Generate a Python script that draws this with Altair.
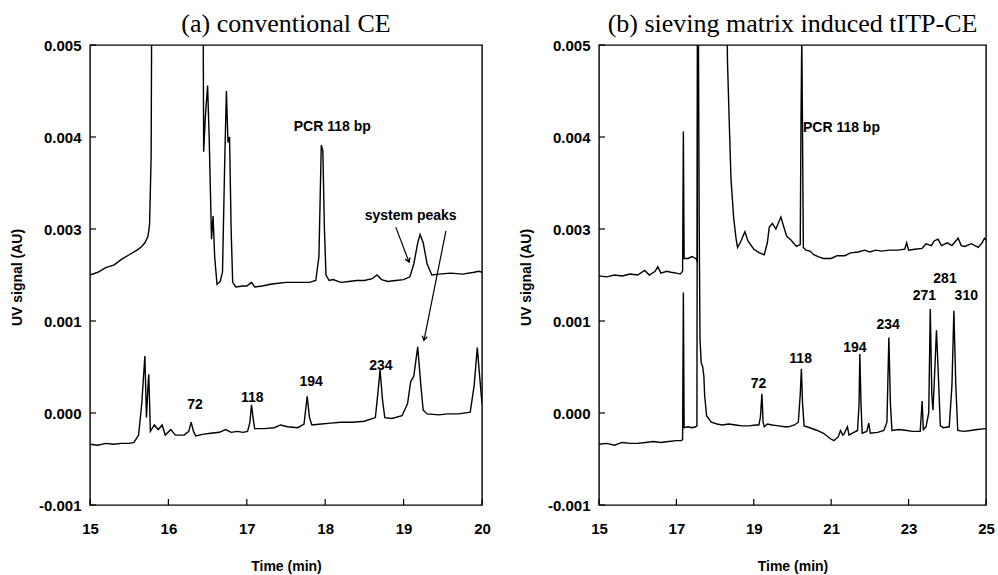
import json
import altair as alt
import pandas as pd

# ---------------- axis definitions ----------------
Y_TICKS = [0.0, 0.001, 0.002, 0.003, 0.004, 0.005]          # plot positions
Y_TICK_LABELS = ["-0.001", "0.000", "0.001", "0.003", "0.004", "0.005"]
LOWER_OFFSET = 0.001   # lower traces are drawn one axis step higher
A_X_TICKS = [15, 16, 17, 18, 19, 20]
B_X_TICKS = [15, 17, 19, 21, 23, 25]

# ---------------- (a) conventional CE ----------------
A_UP_T = [15.00, 15.10, 15.20, 15.31, 15.40, 15.50, 15.60, 15.66, 15.70, 15.74, 15.76, 15.78, 15.79,
          16.44, 16.45, 16.47, 16.50, 16.52, 16.55, 16.57, 16.59, 16.62, 16.66, 16.69, 16.72, 16.74,
          16.76, 16.78, 16.80, 16.82, 16.86, 16.95, 17.00, 17.06, 17.10, 17.20, 17.30, 17.40, 17.50,
          17.60, 17.70, 17.80, 17.88, 17.92, 17.95, 17.97, 17.99, 18.01, 18.05, 18.10, 18.20, 18.30,
          18.40, 18.50, 18.60, 18.66, 18.72, 18.80, 18.90, 19.00, 19.08, 19.13, 19.18, 19.21, 19.25,
          19.30, 19.36, 19.45, 19.60, 19.75, 19.90, 19.96, 20.00]
A_UP_V = [0.00250, 0.00253, 0.00258, 0.00261, 0.00267, 0.00272, 0.00277, 0.00281, 0.00285, 0.00292,
          0.00305, 0.00380, 0.00600, 0.00600, 0.00384, 0.00420, 0.00456, 0.00400, 0.00289, 0.00314,
          0.00270, 0.00240, 0.00243, 0.00253, 0.00380, 0.00450, 0.00394, 0.00400, 0.00300, 0.00242,
          0.00237, 0.00238, 0.00238, 0.00242, 0.00237, 0.00238, 0.00240, 0.00241, 0.00242, 0.00242,
          0.00242, 0.00242, 0.00244, 0.00270, 0.00391, 0.00385, 0.00300, 0.00250, 0.00244, 0.00245,
          0.00242, 0.00243, 0.00244, 0.00244, 0.00246, 0.00250, 0.00245, 0.00243, 0.00244, 0.00245,
          0.00248, 0.00262, 0.00285, 0.00294, 0.00285, 0.00262, 0.00250, 0.00251, 0.00252, 0.00251,
          0.00253, 0.00254, 0.00253]
A_LO_T = [15.00, 15.10, 15.20, 15.30, 15.40, 15.50, 15.56, 15.62, 15.66, 15.70, 15.72, 15.74, 15.75,
          15.77, 15.82, 15.87, 15.92, 15.96, 16.03, 16.09, 16.20, 16.26, 16.29, 16.32, 16.35, 16.45,
          16.54, 16.65, 16.73, 16.80, 16.88, 16.95, 17.01, 17.04, 17.06, 17.08, 17.10, 17.22, 17.35,
          17.43, 17.52, 17.65, 17.73, 17.77, 17.80, 17.83, 17.95, 18.07, 18.20, 18.35, 18.50, 18.64,
          18.67, 18.70, 18.73, 18.76, 18.85, 18.98, 19.05, 19.09, 19.13, 19.18, 19.22, 19.25, 19.30,
          19.45, 19.56, 19.70, 19.85, 19.90, 19.94, 19.97, 20.00]
A_LO_V = [-0.00034, -0.00035, -0.00033, -0.00034, -0.00033, -0.00033, -0.00032, -0.00024, 0.00010,
          0.00062, -0.00005, 0.00030, 0.00042, -0.00020, -0.00013, -0.00018, -0.00013, -0.00024,
          -0.00018, -0.00024, -0.00024, -0.00020, -0.00010, -0.00020, -0.00025, -0.00023, -0.00022,
          -0.00021, -0.00018, -0.00021, -0.00020, -0.00021, -0.00020, -0.00010, 0.00009, -0.00005,
          -0.00017, -0.00017, -0.00016, -0.00013, -0.00015, -0.00016, -0.00012, 0.00018, -0.00005,
          -0.00013, -0.00012, -0.00011, -0.00010, -0.00010, -0.00009, -0.00005, 0.00020, 0.00047,
          0.00015, -0.00005, -0.00006, -0.00003, 0.00010, 0.00034, 0.00040, 0.00072, 0.00030, 0.00003,
          -0.00001, -0.00002, -0.00001, -0.00001, 0.00001, 0.00030, 0.00071, 0.00040, 0.00010]
A_PEAK_NAMES = ["72", "118", "194", "234"]
A_PEAK_T = [16.34, 17.07, 17.82, 18.71]
A_PEAK_V = [0.00009, 0.00016, 0.00034, 0.00051]      # lower-trace units
A_NOTE_TEXT = ["PCR 118 bp", "system peaks"]
A_NOTE_T = [18.09, 19.09]
A_NOTE_V = [0.00411, 0.00314]
A_ARROW_T1 = [18.90, 19.54]
A_ARROW_V1 = [0.00302, 0.00298]
A_ARROW_T2 = [19.07, 19.26]
A_ARROW_V2 = [0.00264, 0.00179]
A_ARROW_ANGLE = [339, 11]

# ---------------- (b) sieving matrix induced tITP-CE ----------------
B_UP_T = [15.00, 15.20, 15.40, 15.60, 15.80, 16.00, 16.18, 16.30, 16.45, 16.52, 16.60, 16.75, 16.86,
          17.00, 17.10, 17.16, 17.18, 17.20, 17.30, 17.40, 17.50, 17.54, 17.55, 18.29, 18.32, 18.37,
          18.41, 18.48, 18.54, 18.58, 18.65, 18.77, 18.85, 19.00, 19.15, 19.27, 19.35, 19.40, 19.48,
          19.57, 19.70, 19.77, 19.85, 19.96, 20.10, 20.20, 20.22, 20.24, 20.26, 20.28, 20.35, 20.45,
          20.55, 20.66, 20.80, 21.00, 21.15, 21.35, 21.50, 21.70, 21.86, 22.00, 22.15, 22.30, 22.50,
          22.73, 22.90, 22.95, 23.00, 23.16, 23.35, 23.45, 23.59, 23.66, 23.76, 23.85, 24.00, 24.12,
          24.28, 24.36, 24.45, 24.62, 24.80, 24.90, 24.96, 25.00]
B_UP_V = [0.00249, 0.00248, 0.00250, 0.00249, 0.00251, 0.00250, 0.00255, 0.00250, 0.00254, 0.00259,
          0.00252, 0.00254, 0.00253, 0.00252, 0.00251, 0.00254, 0.00406, 0.00268, 0.00268, 0.00270,
          0.00268, 0.00265, 0.00600, 0.00600, 0.00482, 0.00410, 0.00355, 0.00312, 0.00290, 0.00280,
          0.00285, 0.00297, 0.00287, 0.00278, 0.00274, 0.00272, 0.00285, 0.00302, 0.00306, 0.00300,
          0.00313, 0.00303, 0.00292, 0.00288, 0.00281, 0.00283, 0.00420, 0.00510, 0.00400, 0.00280,
          0.00277, 0.00276, 0.00272, 0.00270, 0.00268, 0.00268, 0.00271, 0.00271, 0.00274, 0.00275,
          0.00277, 0.00275, 0.00277, 0.00276, 0.00277, 0.00277, 0.00278, 0.00285, 0.00277, 0.00278,
          0.00279, 0.00284, 0.00282, 0.00287, 0.00289, 0.00282, 0.00285, 0.00282, 0.00290, 0.00282,
          0.00281, 0.00284, 0.00280, 0.00285, 0.00290, 0.00288]
B_LO_T = [15.00, 15.20, 15.40, 15.60, 15.80, 16.00, 16.20, 16.40, 16.60, 16.80, 17.00, 17.12, 17.16,
          17.18, 17.20, 17.30, 17.40, 17.50, 17.53, 17.55, 17.59, 17.61, 17.64, 17.68, 17.71, 17.73,
          17.78, 17.90, 18.05, 18.18, 18.35, 18.53, 18.70, 18.87, 19.05, 19.13, 19.17, 19.21, 19.24,
          19.27, 19.35, 19.47, 19.64, 19.80, 19.90, 20.05, 20.15, 20.20, 20.23, 20.26, 20.30, 20.45,
          20.64, 20.80, 20.98, 21.07, 21.18, 21.24, 21.30, 21.33, 21.42, 21.46, 21.55, 21.68, 21.72,
          21.74, 21.77, 21.80, 21.92, 21.97, 22.01, 22.20, 22.36, 22.44, 22.49, 22.53, 22.57, 22.75,
          22.96, 23.10, 23.30, 23.35, 23.38, 23.45, 23.52, 23.56, 23.60, 23.63, 23.67, 23.72, 23.76,
          23.82, 23.90, 24.05, 24.12, 24.17, 24.22, 24.27, 24.43, 24.60, 24.77, 25.00]
B_LO_V = [-0.00034, -0.00033, -0.00035, -0.00032, -0.00033, -0.00033, -0.00032, -0.00031, -0.00032,
          -0.00031, -0.00030, -0.00030, -0.00029, 0.00131, -0.00016, -0.00015, -0.00016, -0.00015,
          -0.00014, 0.00600, 0.00200, 0.00080, 0.00055, 0.00050, 0.00040, 0.00019, -0.00003, -0.00010,
          -0.00012, -0.00013, -0.00012, -0.00013, -0.00014, -0.00014, -0.00013, -0.00013, -0.00005,
          0.00021, -0.00010, -0.00015, -0.00012, -0.00013, -0.00014, -0.00015, -0.00015, -0.00013,
          -0.00010, 0.00020, 0.00048, 0.00010, -0.00014, -0.00016, -0.00019, -0.00022, -0.00028,
          -0.00030, -0.00026, -0.00019, -0.00024, -0.00023, -0.00015, -0.00024, -0.00022, -0.00019,
          0.00010, 0.00064, 0.00010, -0.00022, -0.00020, -0.00011, -0.00022, -0.00021, -0.00019,
          -0.00010, 0.00082, 0.00010, -0.00019, -0.00018, -0.00019, -0.00020, -0.00020, 0.00013,
          -0.00018, -0.00015, 0.00000, 0.00113, 0.00020, 0.00003, 0.00040, 0.00090, 0.00050, -0.00014,
          -0.00016, -0.00015, 0.00030, 0.00111, 0.00030, -0.00019, -0.00020, -0.00019, -0.00018,
          -0.00017]
B_PEAK_NAMES = ["72", "118", "194", "234", "271", "281", "310"]
B_PEAK_T = [19.12, 20.21, 21.61, 22.47, 23.41, 23.94, 24.49]
B_PEAK_V = [0.00032, 0.00059, 0.00071, 0.00096, 0.00127, 0.00146, 0.00127]
B_NOTE_TEXT = ["PCR 118 bp"]
B_NOTE_T = [20.27]
B_NOTE_V = [0.00410]

H = 460
LABEL_EXPR = json.dumps(Y_TICK_LABELS) + "[round(datum.value*1000)]"
SANS = "Liberation Sans"
ARROW_SHAPE = "M -0.6 -1 L 0 0 L 0.6 -1"


def panel(title, xdom, xticks, width, up_t, up_v, lo_t, lo_v,
          peak_names, peak_t, peak_v, note_text, note_t, note_v, arrows=None):
    xs = alt.Scale(domain=xdom, nice=False, zero=False)
    ys = alt.Scale(domain=[Y_TICKS[0], Y_TICKS[-1]], nice=False, zero=False)
    xax = alt.Axis(values=xticks, format="d", title="Time (min)", ticks=False, domain=False,
                   grid=False, labelPadding=16, titlePadding=23, labelFlush=False)
    yax = alt.Axis(values=Y_TICKS, labelExpr=LABEL_EXPR, title="UV signal (AU)", ticks=False,
                   domain=False, grid=False, labelPadding=9, titleX=-73, titleY=232,
                   titleAlign="center", titleBaseline="middle", titleAngle=270, labelFlush=False)

    def X(f):
        return alt.X(f, scale=xs, axis=xax)

    def Y(f):
        return alt.Y(f, scale=ys, axis=yax)

    traces = pd.concat([
        pd.DataFrame({"t": up_t, "v": up_v, "trace": "upper"}),
        pd.DataFrame({"t": lo_t, "v": [v + LOWER_OFFSET for v in lo_v], "trace": "lower"}),
    ])
    lines = alt.Chart(traces).mark_line(color="black", strokeWidth=1.4, clip=True).encode(
        x=X("t:Q"), y=Y("v:Q"), detail="trace:N")

    peaks = pd.DataFrame({"t": peak_t, "v": [v + LOWER_OFFSET for v in peak_v], "s": peak_names})
    peak_text = alt.Chart(peaks).mark_text(
        font=SANS, fontSize=14, fontWeight="bold", color="black").encode(
        x=X("t:Q"), y=Y("v:Q"), text="s:N")

    notes = pd.DataFrame({"t": note_t, "v": note_v, "s": note_text})
    note_align = "left" if arrows is None else "center"
    note_layer = alt.Chart(notes).mark_text(
        font=SANS, fontSize=14, fontWeight="bold", color="black", align=note_align).encode(
        x=X("t:Q"), y=Y("v:Q"), text="s:N")

    ytk = alt.Chart(pd.DataFrame({"v": Y_TICKS})).mark_rule(color="black", strokeWidth=1.2).encode(
        y=Y("v:Q"), x=alt.value(0), x2=alt.value(6))
    xtk = alt.Chart(pd.DataFrame({"t": xticks})).mark_rule(color="black", strokeWidth=1.2).encode(
        x=X("t:Q"), y=alt.value(H), y2=alt.value(H - 6))

    layers = [lines, peak_text, note_layer, ytk, xtk]
    if arrows is not None:
        t1, v1, t2, v2, ang = arrows
        adf = pd.DataFrame({"t": t1, "v": v1, "t2": t2, "v2": v2, "ang": ang})
        shafts = alt.Chart(adf).mark_rule(color="black", strokeWidth=1.2).encode(
            x=X("t:Q"), y=Y("v:Q"), x2="t2:Q", y2="v2:Q")
        heads = alt.Chart(adf).mark_point(
            shape=ARROW_SHAPE, filled=False, color="black", strokeWidth=1.3, size=70, opacity=1).encode(
            x=X("t2:Q"), y=Y("v2:Q"), angle=alt.Angle("ang:Q", scale=None))
        layers += [shafts, heads]

    return alt.layer(*layers).properties(
        width=width, height=H,
        title=alt.TitleParams(title, font="Liberation Serif", fontSize=26, fontWeight="normal",
                              color="black", anchor="middle", frame="group", offset=1))


left = panel("(a) conventional CE", [15, 20], A_X_TICKS, 392, A_UP_T, A_UP_V, A_LO_T, A_LO_V,
             A_PEAK_NAMES, A_PEAK_T, A_PEAK_V, A_NOTE_TEXT, A_NOTE_T, A_NOTE_V,
             arrows=(A_ARROW_T1, A_ARROW_V1, A_ARROW_T2, A_ARROW_V2, A_ARROW_ANGLE))
right = panel("(b) sieving matrix induced tITP-CE", [15, 25], B_X_TICKS, 387, B_UP_T, B_UP_V,
              B_LO_T, B_LO_V, B_PEAK_NAMES, B_PEAK_T, B_PEAK_V, B_NOTE_TEXT, B_NOTE_T, B_NOTE_V)

chart = alt.hconcat(left, right, spacing=26).properties(
    padding={"left": 9, "top": 10, "right": 0, "bottom": 0},
    background="white",
).configure_view(stroke="black", strokeWidth=1.4).configure_axis(
    labelFont=SANS, labelFontSize=15, labelFontWeight="bold", labelColor="black",
    titleFont=SANS, titleFontSize=14, titleFontWeight="bold", titleColor="black",
)

chart.save("out.html", embed_options={"renderer": "svg", "actions": False})
